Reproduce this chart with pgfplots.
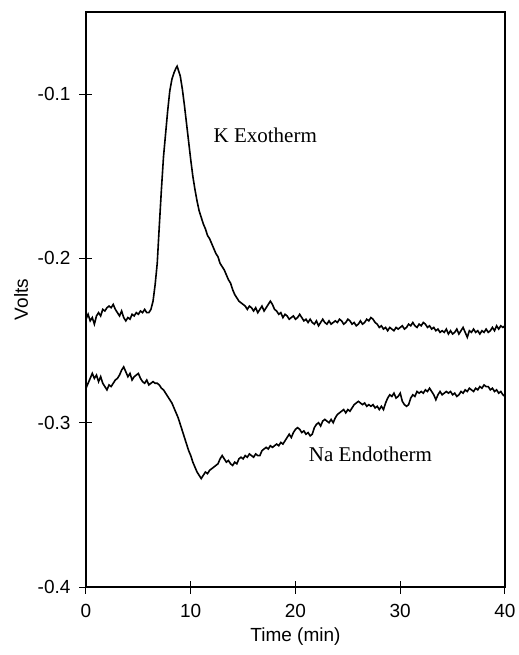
\documentclass[border=0pt]{standalone}
\usepackage{fontspec}
\setmainfont{Liberation Sans}
\newfontfamily\serifL{Liberation Serif}
\usepackage{pgfplots}
\pgfplotsset{compat=1.18}
\begin{document}
\begin{tikzpicture}
\useasboundingbox (-43pt,-34pt) rectangle (216.5pt,293.5pt);
\begin{axis}[
  at={(0pt,0pt)}, anchor=south west,
  scale only axis, width=209.5pt, height=287.5pt,
  xmin=0, xmax=40, ymin=-0.4, ymax=-0.05,
  xtick={0,10,20,30,40}, xticklabels={0,10,20,30,40},
  ytick={-0.4,-0.3,-0.2,-0.1}, yticklabels={-0.4,-0.3,-0.2,-0.1},
  xtick pos=bottom, ytick pos=left,
  tick align=center, major tick length=6.5pt,
  axis line style={line width=0.8pt},
  every tick/.style={line width=0.5pt, black},
  ticklabel style={font=\fontsize{9.5}{11}\selectfont},
  xticklabel style={yshift=-2pt},
  yticklabel style={xshift=-1pt},
  label style={font=\fontsize{9.5}{11}\selectfont},
  xlabel={Time (min)}, ylabel={Volts},
  xlabel style={yshift=2pt},
  ylabel style={yshift=-2pt},
  /pgf/number format/assume math mode=true,
]
\addplot[black, line width=0.8pt] coordinates {
(0.0,-0.237)(0.2,-0.234)(0.4,-0.238)(0.6,-0.236)(0.8,-0.240)(1.0,-0.235)(1.2,-0.233)(1.4,-0.235)(1.6,-0.231)(1.8,-0.232)
(2.0,-0.230)(2.2,-0.229)(2.4,-0.230)(2.6,-0.228)(2.8,-0.231)(3.0,-0.233)(3.2,-0.235)(3.4,-0.232)(3.6,-0.236)(3.8,-0.238)
(4.0,-0.236)(4.2,-0.237)(4.4,-0.234)(4.6,-0.235)(4.8,-0.233)(5.0,-0.234)(5.2,-0.232)(5.4,-0.233)(5.6,-0.231)(5.8,-0.233)
(6.0,-0.233)(6.2,-0.231)(6.4,-0.226)(6.6,-0.216)(6.8,-0.203)(7.0,-0.180)(7.2,-0.158)(7.4,-0.138)(7.6,-0.124)(7.8,-0.110)
(8.0,-0.098)(8.2,-0.091)(8.4,-0.087)(8.6,-0.084)(8.7,-0.083)(8.8,-0.085)(9.0,-0.089)(9.2,-0.097)(9.4,-0.107)(9.6,-0.118)
(9.8,-0.129)(10.0,-0.140)(10.2,-0.150)(10.4,-0.158)(10.6,-0.165)(10.8,-0.171)(11.0,-0.175)(11.2,-0.179)(11.4,-0.182)(11.6,-0.186)
(11.8,-0.188)(12.0,-0.191)(12.2,-0.194)(12.4,-0.197)(12.6,-0.199)(12.8,-0.203)(13.0,-0.205)(13.2,-0.207)(13.4,-0.210)(13.6,-0.213)
(13.8,-0.215)(14.0,-0.219)(14.2,-0.222)(14.4,-0.224)(14.6,-0.226)(14.8,-0.227)(15.0,-0.228)(15.2,-0.229)(15.4,-0.231)(15.6,-0.229)
(15.8,-0.230)(16.0,-0.232)(16.2,-0.230)(16.4,-0.233)(16.6,-0.231)(16.8,-0.229)(17.0,-0.232)(17.2,-0.230)(17.4,-0.228)(17.6,-0.226)
(17.8,-0.228)(18.0,-0.231)(18.2,-0.232)(18.4,-0.234)(18.6,-0.233)(18.8,-0.236)(19.0,-0.234)(19.2,-0.235)(19.4,-0.237)(19.6,-0.236)
(19.8,-0.235)(20.0,-0.237)(20.2,-0.236)(20.4,-0.234)(20.6,-0.236)(20.8,-0.238)(21.0,-0.237)(21.2,-0.239)(21.4,-0.237)(21.6,-0.239)
(21.8,-0.240)(22.0,-0.238)(22.2,-0.241)(22.4,-0.239)(22.6,-0.237)(22.8,-0.239)(23.0,-0.240)(23.2,-0.238)(23.4,-0.240)(23.6,-0.239)
(23.8,-0.238)(24.0,-0.239)(24.2,-0.237)(24.4,-0.238)(24.6,-0.240)(24.8,-0.239)(25.0,-0.237)(25.2,-0.238)(25.4,-0.240)(25.6,-0.239)
(25.8,-0.241)(26.0,-0.240)(26.2,-0.238)(26.4,-0.240)(26.6,-0.239)(26.8,-0.237)(27.0,-0.238)(27.2,-0.236)(27.4,-0.237)(27.6,-0.239)
(27.8,-0.240)(28.0,-0.242)(28.2,-0.241)(28.4,-0.243)(28.6,-0.242)(28.8,-0.244)(29.0,-0.242)(29.2,-0.243)(29.4,-0.244)(29.6,-0.242)
(29.8,-0.243)(30.0,-0.242)(30.2,-0.241)(30.4,-0.243)(30.6,-0.242)(30.8,-0.240)(31.0,-0.241)(31.2,-0.239)(31.4,-0.241)(31.6,-0.242)
(31.8,-0.240)(32.0,-0.241)(32.2,-0.239)(32.4,-0.240)(32.6,-0.242)(32.8,-0.241)(33.0,-0.243)(33.2,-0.242)(33.4,-0.244)(33.6,-0.243)
(33.8,-0.245)(34.0,-0.244)(34.2,-0.245)(34.4,-0.243)(34.6,-0.246)(34.8,-0.244)(35.0,-0.246)(35.2,-0.245)(35.4,-0.243)(35.6,-0.246)
(35.8,-0.244)(36.0,-0.242)(36.2,-0.245)(36.4,-0.248)(36.6,-0.244)(36.8,-0.245)(37.0,-0.243)(37.2,-0.245)(37.4,-0.244)(37.6,-0.246)
(37.8,-0.244)(38.0,-0.245)(38.2,-0.243)(38.4,-0.245)(38.6,-0.244)(38.8,-0.242)(39.0,-0.244)(39.2,-0.241)(39.4,-0.243)(39.6,-0.241)
(39.8,-0.242)(40.0,-0.241)
};
\addplot[black, line width=0.8pt] coordinates {
(0.0,-0.279)(0.2,-0.276)(0.4,-0.273)(0.6,-0.270)(0.8,-0.273)(1.0,-0.271)(1.2,-0.275)(1.4,-0.272)(1.6,-0.276)(1.8,-0.278)
(2.0,-0.280)(2.2,-0.277)(2.4,-0.278)(2.6,-0.276)(2.8,-0.274)(3.0,-0.273)(3.2,-0.271)(3.4,-0.268)(3.6,-0.266)(3.8,-0.269)
(4.0,-0.272)(4.2,-0.270)(4.4,-0.274)(4.6,-0.272)(4.8,-0.271)(5.0,-0.270)(5.2,-0.273)(5.4,-0.275)(5.6,-0.276)(5.8,-0.274)
(6.0,-0.277)(6.2,-0.276)(6.4,-0.275)(6.6,-0.276)(6.8,-0.276)(7.0,-0.277)(7.2,-0.279)(7.4,-0.280)(7.6,-0.282)(7.8,-0.284)
(8.0,-0.286)(8.2,-0.288)(8.4,-0.291)(8.6,-0.294)(8.8,-0.297)(9.0,-0.301)(9.2,-0.305)(9.4,-0.309)(9.6,-0.313)(9.8,-0.317)
(10.0,-0.320)(10.2,-0.324)(10.4,-0.327)(10.6,-0.330)(10.8,-0.332)(11.0,-0.334)(11.2,-0.332)(11.4,-0.330)(11.6,-0.331)(11.8,-0.329)
(12.0,-0.328)(12.2,-0.327)(12.4,-0.326)(12.6,-0.325)(12.8,-0.322)(13.0,-0.320)(13.2,-0.322)(13.4,-0.324)(13.6,-0.323)(13.8,-0.325)
(14.0,-0.326)(14.2,-0.324)(14.4,-0.325)(14.6,-0.322)(14.8,-0.321)(15.0,-0.322)(15.2,-0.320)(15.4,-0.321)(15.6,-0.319)(15.8,-0.320)
(16.0,-0.321)(16.2,-0.319)(16.4,-0.320)(16.6,-0.320)(16.8,-0.317)(17.0,-0.316)(17.2,-0.315)(17.4,-0.316)(17.6,-0.314)(17.8,-0.315)
(18.0,-0.314)(18.2,-0.313)(18.4,-0.314)(18.6,-0.312)(18.8,-0.313)(19.0,-0.311)(19.2,-0.309)(19.4,-0.307)(19.6,-0.309)(19.8,-0.306)
(20.0,-0.304)(20.2,-0.303)(20.4,-0.304)(20.6,-0.306)(20.8,-0.305)(21.0,-0.307)(21.2,-0.306)(21.4,-0.308)(21.6,-0.307)(21.8,-0.303)
(22.0,-0.301)(22.2,-0.300)(22.4,-0.302)(22.6,-0.299)(22.8,-0.298)(23.0,-0.299)(23.2,-0.300)(23.4,-0.298)(23.6,-0.300)(23.8,-0.297)
(24.0,-0.295)(24.2,-0.294)(24.4,-0.293)(24.6,-0.292)(24.8,-0.294)(25.0,-0.292)(25.2,-0.293)(25.4,-0.291)(25.6,-0.289)(25.8,-0.288)
(26.0,-0.287)(26.2,-0.288)(26.4,-0.289)(26.6,-0.288)(26.8,-0.290)(27.0,-0.289)(27.2,-0.290)(27.4,-0.289)(27.6,-0.291)(27.8,-0.290)
(28.0,-0.292)(28.2,-0.290)(28.4,-0.292)(28.6,-0.288)(28.8,-0.285)(29.0,-0.283)(29.2,-0.284)(29.4,-0.282)(29.6,-0.285)(29.8,-0.284)
(30.0,-0.282)(30.2,-0.287)(30.4,-0.289)(30.6,-0.290)(30.8,-0.289)(31.0,-0.285)(31.2,-0.283)(31.4,-0.284)(31.6,-0.281)(31.8,-0.282)
(32.0,-0.281)(32.2,-0.282)(32.4,-0.280)(32.6,-0.281)(32.8,-0.279)(33.0,-0.281)(33.2,-0.283)(33.4,-0.286)(33.6,-0.283)(33.8,-0.281)
(34.0,-0.283)(34.2,-0.282)(34.4,-0.281)(34.6,-0.282)(34.8,-0.281)(35.0,-0.283)(35.2,-0.282)(35.4,-0.284)(35.6,-0.283)(35.8,-0.281)
(36.0,-0.282)(36.2,-0.280)(36.4,-0.281)(36.6,-0.279)(36.8,-0.280)(37.0,-0.281)(37.2,-0.279)(37.4,-0.280)(37.6,-0.278)(37.8,-0.279)
(38.0,-0.277)(38.2,-0.278)(38.4,-0.278)(38.6,-0.280)(38.8,-0.279)(39.0,-0.281)(39.2,-0.280)(39.4,-0.282)(39.6,-0.281)(39.8,-0.283)
(40.0,-0.284)
};
\node[font=\serifL\fontsize{10.5}{12}\selectfont, anchor=west, inner sep=0pt] at (axis cs:12.15,-0.125) {K Exotherm};
\node[font=\serifL\fontsize{10.5}{12}\selectfont, anchor=west, inner sep=0pt] at (axis cs:21.25,-0.319) {Na Endotherm};
\end{axis}
\end{tikzpicture}
\end{document}
